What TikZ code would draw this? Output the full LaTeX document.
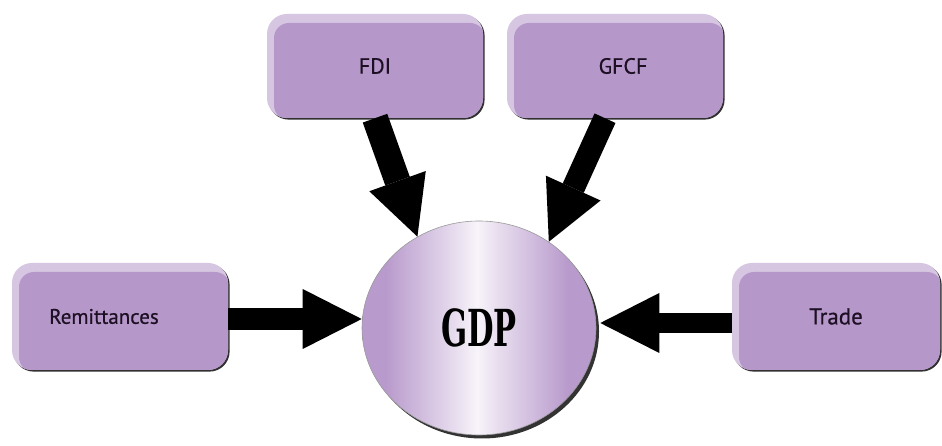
\documentclass[tikz,border=0pt]{standalone}
\usepackage{fontspec}
\usetikzlibrary{shapes.geometric,arrows.meta,shadows}
\newfontfamily\boxfont[AutoFakeBold=0.6]{PT Sans}
\newfontfamily\gdpfont{DejaVu Serif}
\definecolor{boxmain}{RGB}{181,151,201}
\definecolor{boxlight}{RGB}{214,198,226}
\definecolor{circpurple}{RGB}{184,154,204}
\definecolor{circwhite}{RGB}{248,244,250}
\definecolor{textdark}{RGB}{30,16,36}
\pgfdeclarehorizontalshading{gdpshade}{100bp}{color(0bp)=(circpurple); color(25bp)=(circpurple); color(30bp)=(circpurple); color(45bp)=(circwhite!75!circpurple); color(49.5bp)=(circwhite); color(54bp)=(circwhite!75!circpurple); color(69bp)=(circpurple); color(75bp)=(circpurple); color(100bp)=(circpurple)}
\tikzset{
  box/.style={rectangle, rounded corners=20pt, minimum width=216pt, minimum height=104pt,
    inner sep=0pt, fill=boxlight, text=textdark,
    drop shadow={shadow xshift=1.6pt, shadow yshift=-1.6pt, fill=black!85, opacity=0.95},
    path picture={\fill[boxmain, rounded corners=15pt]
      ([xshift=7pt,yshift=-9pt]path picture bounding box.north west) rectangle
      ([xshift=2pt,yshift=-2pt]path picture bounding box.south east);}},
  gdpnode/.style={ellipse, minimum width=234pt, minimum height=214pt, inner sep=0pt,
    shading=gdpshade, draw=black!40, line width=0.6pt,
    drop shadow={shadow xshift=3pt, shadow yshift=-3.5pt, fill=black, opacity=0.8}},
  bigarrow/.style={black, line width=#1, -{Triangle[width=60pt,length=59pt,line width=0pt]}},
  bigarrow/.default=23pt
}
\begin{document}
\begin{tikzpicture}[x=1pt,y=1pt]
\fill[white] (0,0) rectangle (942,446);
\useasboundingbox (0,0) rectangle (942,446);

\node[box] (fdi) at (375,380) {\fontsize{22}{24}\boxfont\bfseries\selectfont FDI};
\node[box] (gfcf) at (615,380) {\fontsize{22}{24}\boxfont\bfseries\selectfont\hspace*{16pt}GFCF};
\node[box, minimum height=107pt] (rem) at (120,129.5) {\fontsize{21}{24}\boxfont\bfseries\selectfont Remittances\hspace*{32pt}};
\node[box, minimum height=107pt, minimum width=208pt] (trade) at (836,129.5) {\fontsize{23}{24}\boxfont\bfseries\selectfont Trade};

\node[gdpnode] (gdp) at (479,118) {\raisebox{-5pt}{\gdpfont\bfseries\fontsize{51}{51}\selectfont\scalebox{0.6}[1]{GDP}}};

\draw[bigarrow=26pt] (fdi.south) -- (gdp.124.5);
\draw[bigarrow=23pt] ([xshift=-10pt]gfcf.south) -- (gdp.51);
\draw[bigarrow=22pt] ([yshift=-2.5pt]rem.east) -- ([yshift=-2.5pt]rem.east -| gdp.west);
\draw[bigarrow=20pt] ([yshift=-6.5pt]trade.west) -- ([yshift=-6.5pt,xshift=4pt]trade.west -| gdp.east);
\end{tikzpicture}
\end{document}
